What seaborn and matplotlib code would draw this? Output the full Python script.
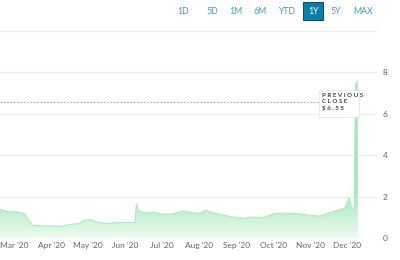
import matplotlib
matplotlib.use("Agg")
import matplotlib.pyplot as plt
import matplotlib.dates as mdates
from matplotlib.colors import LinearSegmentedColormap
from matplotlib.patches import Rectangle, FancyBboxPatch
import numpy as np
import pandas as pd
import seaborn as sns

dates = ["2020-02-18", "2020-02-22", "2020-02-26", "2020-03-01", "2020-03-07", "2020-03-10",
         "2020-03-14", "2020-03-16", "2020-03-24", "2020-04-01", "2020-04-08", "2020-04-16",
         "2020-04-24", "2020-04-28", "2020-05-03", "2020-05-07", "2020-05-15", "2020-05-27",
         "2020-06-09", "2020-06-10", "2020-06-12", "2020-06-18", "2020-06-25", "2020-07-01",
         "2020-07-09", "2020-07-20", "2020-07-29", "2020-08-02", "2020-08-06", "2020-08-14",
         "2020-08-26", "2020-09-07", "2020-09-11", "2020-09-23", "2020-10-03", "2020-10-15",
         "2020-10-24", "2020-11-01", "2020-11-09", "2020-11-13", "2020-11-21", "2020-11-29",
         "2020-12-03", "2020-12-05", "2020-12-07", "2020-12-08", "2020-12-10"]
prices = [1.40, 1.32, 1.25, 1.28, 1.22, 1.15,
          0.80, 0.62, 0.58, 0.60, 0.55, 0.65,
          0.70, 0.85, 0.90, 0.80, 0.70, 0.75,
          0.75, 1.65, 1.30, 1.20, 1.25, 1.15,
          1.15, 1.30, 1.20, 1.20, 1.35, 1.20,
          1.05, 0.95, 1.00, 1.00, 1.20, 1.20,
          1.15, 1.10, 1.05, 1.15, 1.30, 1.45,
          1.95, 1.40, 1.50, 7.40, 7.60]
previous_close = 6.55
range_buttons = ["1D", "5D", "1M", "6M", "YTD", "1Y", "5Y", "MAX"]
active_button = "1Y"
y_ticks = [0, 2, 4, 6, 8, 10]
month_ticks = pd.date_range("2020-03-01", "2020-12-01", freq="MS")

df = pd.DataFrame({"date": pd.to_datetime(dates), "price": prices})

sns.set_theme(style="white")
plt.rcParams["font.family"] = ["Lato", "DejaVu Sans"]

fig = plt.figure(figsize=(4, 2.6), dpi=100)
ax = fig.add_axes([0.0, 22 / 260, 377 / 400, 207 / 260])

xmin = pd.Timestamp("2020-02-18 10:00")
xmax = pd.Timestamp("2020-12-25 20:00")
ax.set_xlim(xmin, xmax)
ax.set_ylim(0, 10)

# gradient fill under the line (colour depends on height)
poly = ax.fill_between(df["date"], df["price"], 0, color="none", lw=0)
cmap = LinearSegmentedColormap.from_list(
    "g", [(0, "#eefaf1"), (0.5, "#c6efd3"), (1.0, "#a4e7b8")])
yy = np.linspace(0, 10, 1000)
tt = np.clip(yy / 2.4, 0, 1).reshape(-1, 1)
x0n, x1n = mdates.date2num(xmin), mdates.date2num(xmax)
img = ax.imshow(tt, extent=[x0n, x1n, 0, 10], origin="lower", aspect="auto",
                cmap=cmap, vmin=0, vmax=1, zorder=1, interpolation="bilinear")
img.set_clip_path(poly.get_paths()[0], transform=ax.transData)

sns.lineplot(data=df, x="date", y="price", ax=ax, color="#b0e9c0", lw=0.8, zorder=2)

# previous close dotted line
ax.axhline(previous_close, xmin=0, xmax=319 / 377, color="#a8a8a8", lw=0.8,
           ls=(0, (1.5, 1.5)), zorder=3)

# grid
ax.set_yticks(y_ticks)
ax.yaxis.grid(True, color="#eeeeee", lw=0.9)
ax.xaxis.grid(False)
ax.set_axisbelow(True)
for s in ax.spines.values():
    s.set_visible(False)
ax.yaxis.tick_right()
ax.set_yticklabels([str(t) if t < 10 else "" for t in y_ticks])
ax.tick_params(axis="y", length=0, pad=4, labelsize=6, labelcolor="#666666")
ax.set_xticks(month_ticks)
ax.xaxis.set_major_formatter(mdates.DateFormatter("%b '%y"))
ax.tick_params(axis="x", length=0, pad=3, labelsize=6, labelcolor="#666666")
ax.set_xlabel("")
ax.set_ylabel("")

# tooltip box with a faint shadow
shadow = FancyBboxPatch((320 / 400, 1 - 118 / 260), 40 / 400, 27 / 260,
                        boxstyle="square,pad=0", transform=fig.transFigure,
                        facecolor="#ececec", edgecolor="none", zorder=4)
fig.add_artist(shadow)
box = FancyBboxPatch((319 / 400, 1 - 117 / 260), 40 / 400, 27 / 260,
                     boxstyle="square,pad=0", transform=fig.transFigure,
                     facecolor="white", edgecolor="#e4e4e4", lw=0.5, zorder=5)
fig.add_artist(box)
fig.text(322 / 400, 1 - 93 / 260, "P R E V I O U S\nC L O S E\n$ 6 . 5 5",
         ha="left", va="top", fontsize=4.5, fontweight="bold", color="#444444",
         linespacing=1.3, zorder=6)

# range buttons
btn_x = [183, 212, 236, 260, 287, 313, 336, 363]
for lbl, bx in zip(range_buttons, btn_x):
    if lbl == active_button:
        fig.add_artist(Rectangle(((bx - 10) / 400, 1 - 20 / 260), 20 / 400, 18 / 260,
                                 transform=fig.transFigure, facecolor="#0b7fa9",
                                 edgecolor="#1d4a5c", lw=0.8))
        fig.text(bx / 400, 1 - 11 / 260, lbl, ha="center", va="center",
                 fontsize=6.3, color="white")
    else:
        fig.text(bx / 400, 1 - 11 / 260, lbl, ha="center", va="center",
                 fontsize=6.3, color="#3f9cc8")

fig.savefig("out.png", dpi=100)
